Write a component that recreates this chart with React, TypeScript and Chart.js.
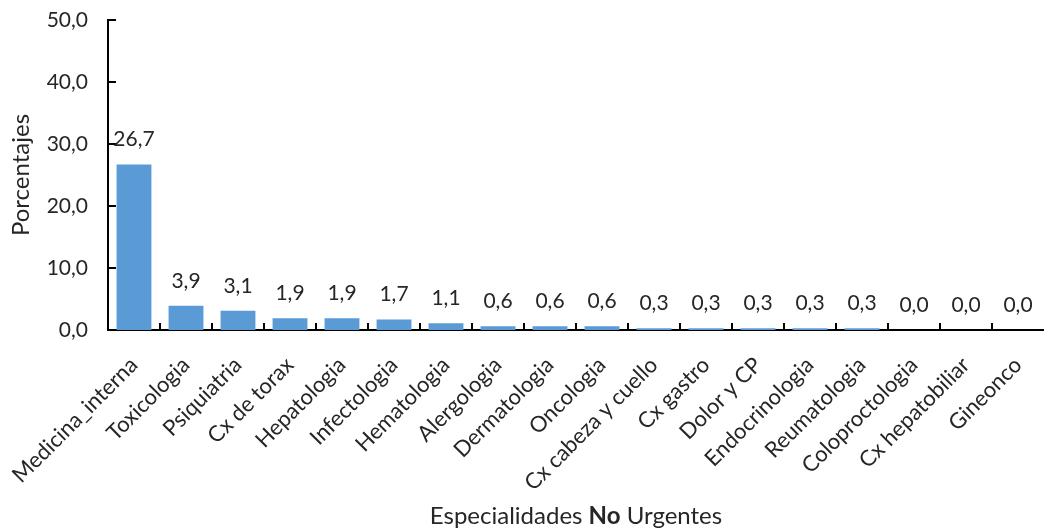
import React, { useEffect, useRef } from "react";
import { Chart, registerables } from "chart.js";

Chart.register(...registerables);

const categories = [
  "Medicina_interna",
  "Toxicologia",
  "Psiquiatria",
  "Cx de torax",
  "Hepatologia",
  "Infectologia",
  "Hematologia",
  "Alergologia",
  "Dermatologia",
  "Oncologia",
  "Cx cabeza y cuello",
  "Cx gastro",
  "Dolor y CP",
  "Endocrinologia",
  "Reumatologia",
  "Coloproctologia",
  "Cx hepatobiliar",
  "Gineonco",
];
const values = [26.7, 3.9, 3.1, 1.9, 1.9, 1.7, 1.1, 0.6, 0.6, 0.6, 0.3, 0.3, 0.3, 0.3, 0.3, 0.0, 0.0, 0.0];
const yTicks = [0, 10, 20, 30, 40, 50];
const yTitle = "Porcentajes";
const xTitleParts = [
  { text: "Especialidades ", bold: false },
  { text: "No", bold: true },
  { text: " Urgentes", bold: false },
];

const FONT = "Lato";
const TEXT = "#262626";
const NUM_SIZE = 21;
const LABEL_SIZE = 22;
const TITLE_SIZE = 24;
const fmt = (v: number) => v.toFixed(1).replace(".", ",");

const overlay = {
  id: "overlay",
  afterDraw(chart: any) {
    const { ctx, chartArea, scales } = chart;
    const x = scales.x;
    const y = scales.y;
    ctx.save();
    ctx.strokeStyle = "#000";
    ctx.lineWidth = 2;
    y.ticks.forEach((_t: any, i: number) => {
      const py = Math.round(y.getPixelForTick(i));
      ctx.beginPath();
      ctx.moveTo(chartArea.left, py);
      ctx.lineTo(chartArea.left + 8, py);
      ctx.stroke();
    });
    for (let i = 1; i < categories.length; i++) {
      const px = Math.round((x.getPixelForValue(i - 1) + x.getPixelForValue(i)) / 2);
      ctx.beginPath();
      ctx.moveTo(px, chartArea.bottom);
      ctx.lineTo(px, chartArea.bottom - 7);
      ctx.stroke();
    }
    ctx.fillStyle = TEXT;
    ctx.font = `${NUM_SIZE}px ${FONT}`;
    ctx.textAlign = "center";
    ctx.textBaseline = "middle";
    const meta = chart.getDatasetMeta(0);
    meta.data.forEach((bar: any, i: number) => {
      ctx.fillText(fmt(values[i]), bar.x, bar.y - 25);
    });
    const widths = xTitleParts.map((p) => {
      ctx.font = `${p.bold ? "bold " : ""}${TITLE_SIZE}px ${FONT}`;
      return ctx.measureText(p.text).width;
    });
    const total = widths.reduce((a, b) => a + b, 0);
    let cx = (chartArea.left + chartArea.right) / 2 - total / 2;
    ctx.textAlign = "left";
    const ty = chart.height - 16;
    xTitleParts.forEach((p, i) => {
      ctx.font = `${p.bold ? "bold " : ""}${TITLE_SIZE}px ${FONT}`;
      ctx.fillText(p.text, cx, ty);
      cx += widths[i];
    });
    ctx.restore();
  },
};

export default function App() {
  const ref = useRef<HTMLCanvasElement | null>(null);
  useEffect(() => {
    if (!ref.current) return;
    const chart = new Chart(ref.current, {
      type: "bar",
      data: {
        labels: categories,
        datasets: [
          {
            data: values,
            backgroundColor: "#5B9BD5",
            borderWidth: 0,
            categoryPercentage: 1,
            barPercentage: 0.67,
          },
        ],
      },
      options: {
        animation: false,
        responsive: true,
        maintainAspectRatio: false,
        layout: { padding: { top: 20, right: 0, left: 0, bottom: 0 } },
        plugins: { legend: { display: false }, tooltip: { enabled: false } },
        scales: {
          x: {
            offset: true,
            grid: { display: false, drawTicks: false },
            border: { display: true, color: "#000", width: 2 },
            ticks: {
              autoSkip: false,
              minRotation: 45,
              maxRotation: 45,
              padding: 22,
              color: TEXT,
              font: { family: FONT, size: LABEL_SIZE },
            },
            afterFit: (s: any) => {
              s.height = 202;
              s.paddingLeft = 0;
              s.paddingRight = 0;
            },
          },
          y: {
            min: 0,
            max: 50,
            afterBuildTicks: (s: any) => {
              s.ticks = yTicks.map((v) => ({ value: v }));
            },
            grid: { display: false, drawTicks: false },
            border: { display: true, color: "#000", width: 2 },
            ticks: {
              padding: 20,
              color: TEXT,
              font: { family: FONT, size: NUM_SIZE },
              callback: (v: any) => fmt(Number(v)),
            },
            title: {
              display: true,
              text: yTitle,
              color: TEXT,
              font: { family: FONT, size: TITLE_SIZE },
              padding: { top: 7, bottom: 0 },
            },
            afterFit: (s: any) => {
              s.width = 108;
              s.paddingTop = 0;
              s.paddingBottom = 0;
            },
          },
        },
      },
      plugins: [overlay],
    });
    return () => chart.destroy();
  }, []);
  return (
    <div style={{ position: "fixed", left: 0, top: 0, width: 1044, height: 532, background: "#fff" }}>
      <canvas ref={ref} />
    </div>
  );
}
